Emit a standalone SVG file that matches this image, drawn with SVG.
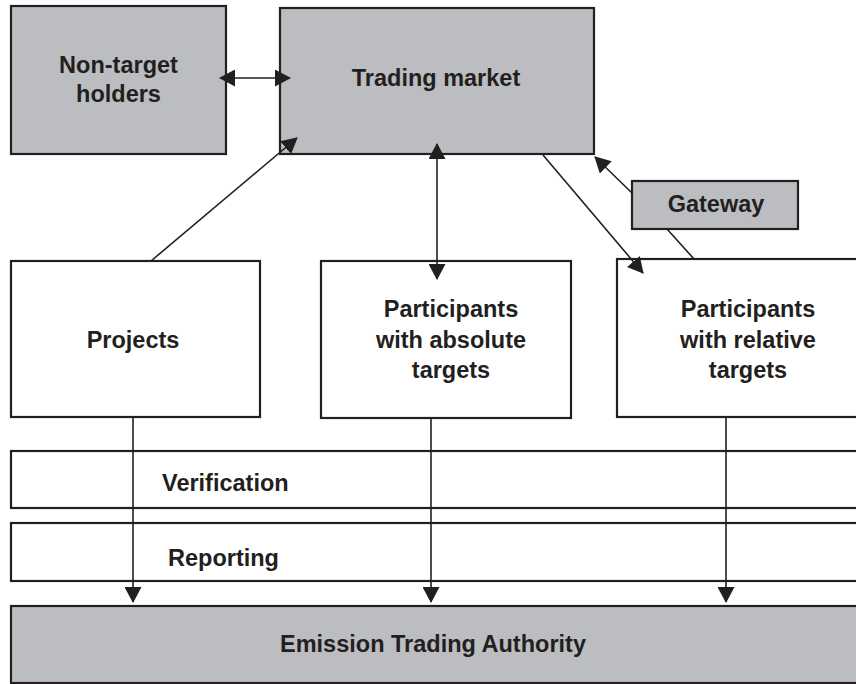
<svg xmlns="http://www.w3.org/2000/svg" width="856" height="684" viewBox="0 0 856 684">
<style>
.box{stroke:#231f20;stroke-width:2.2}
.g{fill:#bcbdc0}
.w{fill:#ffffff}
.t{font-family:"Liberation Sans",Arial,sans-serif;font-weight:bold;font-size:23.5px;fill:#231f20}
.c{text-anchor:middle}
.ln{stroke:#231f20;stroke-width:1.6;fill:none}
</style>
<defs>
<marker id="ah" viewBox="0 0 16 17" refX="15" refY="8.5" markerWidth="16" markerHeight="17" markerUnits="userSpaceOnUse" orient="auto-start-reverse">
<path d="M0,0 L16,8.5 L0,17 z" fill="#231f20"/>
</marker>
</defs>
<rect width="856" height="684" fill="#ffffff"/>
<g id="nontarget">
<rect class="box g" x="11" y="6" width="215" height="148"/>
<text class="t c" x="118.5" y="73">Non-target</text>
<text class="t c" x="118.5" y="102">holders</text>
</g>
<g id="market">
<rect class="box g" x="280" y="8" width="314" height="146"/>
<text class="t c" x="436" y="86">Trading market</text>
</g>
<g id="gateway">
<rect class="box g" x="632" y="181" width="166" height="48"/>
<text class="t c" x="716" y="212">Gateway</text>
</g>
<g id="projects">
<rect class="box w" x="11" y="261" width="249" height="156"/>
<text class="t c" x="133" y="348">Projects</text>
</g>
<g id="absolute">
<rect class="box w" x="321" y="261" width="250" height="157"/>
<text class="t c" x="451" y="317">Participants</text>
<text class="t c" x="451" y="348">with absolute</text>
<text class="t c" x="451" y="378">targets</text>
</g>
<g id="relative">
<rect class="box w" x="617" y="259" width="262" height="158"/>
<text class="t c" x="748" y="317">Participants</text>
<text class="t c" x="748" y="348">with relative</text>
<text class="t c" x="748" y="378">targets</text>
</g>
<g id="verification">
<rect class="box w" x="11" y="451" width="870" height="57"/>
<text class="t" x="162" y="491">Verification</text>
</g>
<g id="reporting">
<rect class="box w" x="11" y="523" width="870" height="58"/>
<text class="t" x="168" y="566">Reporting</text>
</g>
<g id="authority">
<rect class="box g" x="11" y="606" width="870" height="77"/>
<text class="t c" x="433" y="652">Emission Trading Authority</text>
</g>
<g id="connectors">
<line class="ln" x1="220" y1="78" x2="290" y2="78" marker-start="url(#ah)" marker-end="url(#ah)"/>
<line class="ln" x1="437" y1="144" x2="437" y2="279" marker-start="url(#ah)" marker-end="url(#ah)"/>
<line class="ln" x1="151" y1="261" x2="297" y2="138" marker-end="url(#ah)"/>
<line class="ln" x1="543" y1="155" x2="643" y2="273" marker-end="url(#ah)"/>
<line class="ln" x1="632" y1="193" x2="595" y2="157" marker-end="url(#ah)"/>
<line class="ln" x1="667" y1="229" x2="694" y2="259"/>
<line class="ln" x1="133" y1="417" x2="133" y2="602" marker-end="url(#ah)"/>
<line class="ln" x1="431" y1="418" x2="431" y2="602" marker-end="url(#ah)"/>
<line class="ln" x1="726" y1="417" x2="726" y2="602" marker-end="url(#ah)"/>
</g>
</svg>
